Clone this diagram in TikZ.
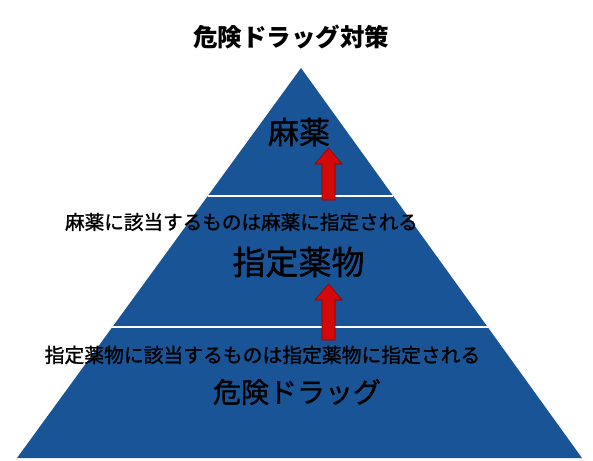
\documentclass[tikz,border=0pt]{standalone}
\usepackage{fontspec}
\newfontfamily\cjk{Noto Sans CJK JP}
\newfontfamily\cjkm{Noto Sans CJK JP}[FakeBold=1.2]
\usetikzlibrary{calc}
\definecolor{pyrblue}{RGB}{24,84,150}
\definecolor{arrred}{RGB}{210,10,10}
\definecolor{arredge}{RGB}{150,0,0}
\begin{document}
\begin{tikzpicture}[x=1pt,y=-1pt,
  txt/.style={inner sep=0pt, text=black, anchor=center},
  fs/.style={font=\cjk\fontsize{#1}{#1}\selectfont},
  fsm/.style={font=\cjkm\fontsize{#1}{#1}\selectfont},
  divider/.style={draw=white, line width=1.6pt},
  uparrow/.style={fill=arrred, draw=arredge, line width=0.6pt}]
\useasboundingbox (0,0) rectangle (593,460);
\fill[white] (0,0) rectangle (593,460);
% pyramid
\coordinate (apex) at (301,68);
\coordinate (bl) at (17,458);
\coordinate (br) at (582,458);
\fill[pyrblue] (apex) -- (bl) -- (br) -- cycle;
% dividers
\coordinate (d1l) at ($(apex)!128/390!(bl)$);
\coordinate (d1r) at ($(apex)!128/390!(br)$);
\coordinate (d2l) at ($(apex)!259/390!(bl)$);
\coordinate (d2r) at ($(apex)!259/390!(br)$);
\draw[divider] (d1l) -- (d1r);
\draw[divider] (d2l) -- (d2r);
% arrows
\filldraw[uparrow] (322,200) -- (322,164) -- (315,164) -- (328.5,148) -- (342,164) -- (335,164) -- (335,200) -- cycle;
\filldraw[uparrow] (322,340) -- (322,300) -- (315,300) -- (328.5,284) -- (342,300) -- (335,300) -- (335,340) -- cycle;
% texts
\node[txt, fs=24.5] (title) at (291,37) {\bfseries 危険ドラッグ対策};
\node[txt, fsm=31] (mayaku) at (299,132) {麻薬};
\node[txt, fsm=19.6] (lbl1) at (241.5,222) {麻薬に該当するものは麻薬に指定される};
\node[txt, fsm=33] (shitei) at (298.5,262) {指定薬物};
\node[txt, fsm=19.8] (lbl2) at (262.5,355) {指定薬物に該当するものは指定薬物に指定される};
\node[txt, fsm=28] (kiken) at (297,392) {危険ドラッグ};
\end{tikzpicture}
\end{document}
